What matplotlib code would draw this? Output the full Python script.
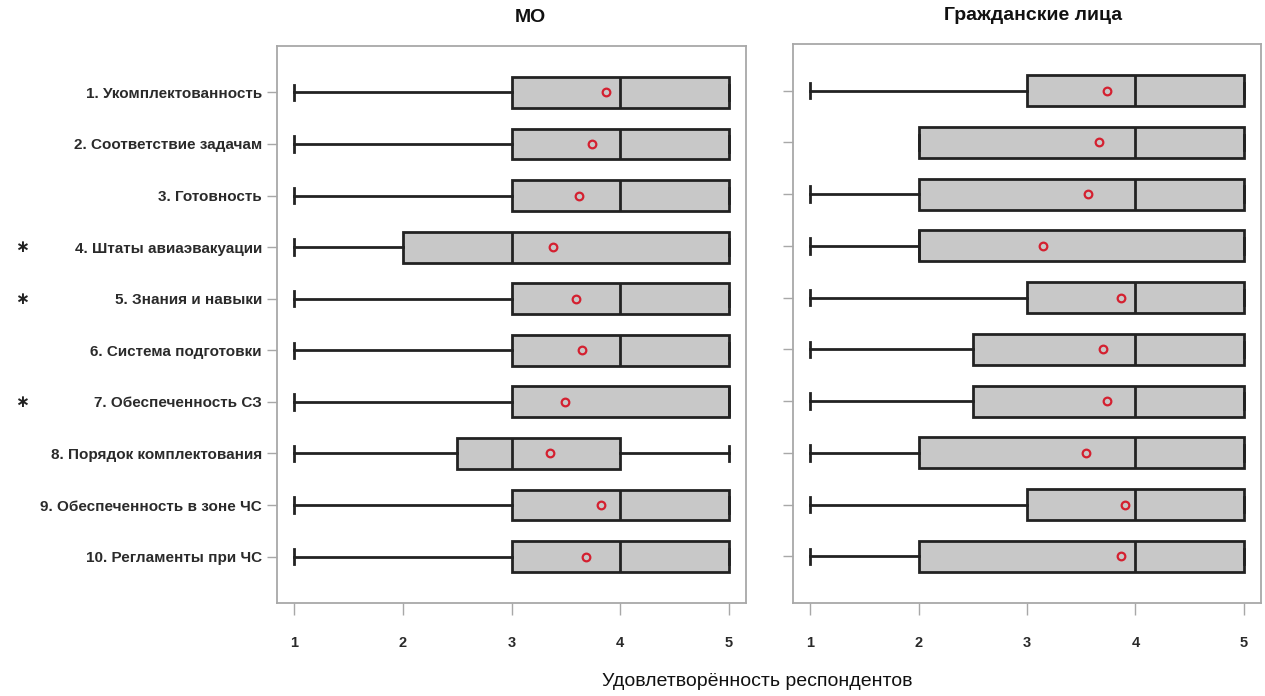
import matplotlib.pyplot as plt
import matplotlib.transforms as mtransforms

plt.rcParams['font.family'] = ['Liberation Sans', 'DejaVu Sans']

# --- данные ---
labels = ["1. Укомплектованность", "2. Соответствие задачам", "3. Готовность",
          "4. Штаты авиаэвакуации", "5. Знания и навыки", "6. Система подготовки",
          "7. Обеспеченность СЗ", "8. Порядок комплектования",
          "9. Обеспеченность в зоне ЧС", "10. Регламенты при ЧС"]
significant = [4, 5, 7]

# МО
mo_lo = [1, 1, 1, 1, 1, 1, 1, 1, 1, 1]
mo_q1 = [3, 3, 3, 2, 3, 3, 3, 2.5, 3, 3]
mo_med = [4, 4, 4, 3, 4, 4, 5, 3, 4, 4]
mo_q3 = [5, 5, 5, 5, 5, 5, 5, 4, 5, 5]
mo_hi = [5, 5, 5, 5, 5, 5, 5, 5, 5, 5]
mo_mean = [3.87, 3.74, 3.62, 3.38, 3.59, 3.65, 3.49, 3.35, 3.82, 3.69]

# Гражданские лица
civ_lo = [1, 2, 1, 1, 1, 1, 1, 1, 1, 1]
civ_q1 = [3, 2, 2, 2, 3, 2.5, 2.5, 2, 3, 2]
civ_med = [4, 4, 4, 2, 4, 4, 4, 4, 4, 4]
civ_q3 = [5, 5, 5, 5, 5, 5, 5, 5, 5, 5]
civ_hi = [5, 5, 5, 5, 5, 5, 5, 5, 5, 5]
civ_mean = [3.74, 3.66, 3.56, 3.15, 3.87, 3.70, 3.74, 3.54, 3.90, 3.87]

xticks = [1, 2, 3, 4, 5]

dark = '#222222'
txt = '#2a2a2a'
frame = '#a8a8a8'


def make_stats(lo, q1, med, q3, hi, mean):
    return [dict(whislo=a, q1=b, med=c, q3=d, whishi=e, mean=f, fliers=[])
            for a, b, c, d, e, f in zip(lo, q1, med, q3, hi, mean)]


def draw_panel(ax, stats, show_labels):
    ax.bxp(stats, positions=range(1, len(stats) + 1), orientation='horizontal',
           widths=0.6, capwidths=0.3, patch_artist=True, showmeans=True,
           showfliers=False,
           boxprops=dict(facecolor='#c8c8c8', edgecolor=dark, linewidth=2),
           whiskerprops=dict(color=dark, linewidth=2),
           capprops=dict(color=dark, linewidth=2),
           medianprops=dict(color=dark, linewidth=2),
           meanprops=dict(marker='o', markerfacecolor='none',
                          markeredgecolor='#d42030', markersize=5.5,
                          markeredgewidth=1.6))
    ax.set_xlim(0.84, 5.16)
    ax.set_ylim(10.9, 0.1)
    ax.set_xticks(xticks)
    ax.set_xticklabels([str(t) for t in xticks], fontsize=10.5,
                       fontweight='bold', color=txt)
    ax.set_yticks(range(1, len(stats) + 1))
    if show_labels:
        ax.set_yticklabels(labels, fontsize=11, fontweight='bold', color=txt)
    else:
        ax.set_yticklabels([])
    ax.tick_params(axis='x', length=8.5, width=1, color=frame, pad=15)
    ax.tick_params(axis='y', length=7, width=1, color=frame, pad=4)
    for s in ax.spines.values():
        s.set_color(frame)
        s.set_linewidth(1.3)


fig = plt.figure(figsize=(12.65, 6.96), dpi=100)
ax1 = fig.add_axes([0.219, 0.1336, 0.3708, 0.8003])
ax2 = fig.add_axes([0.6269, 0.1336, 0.370, 0.8032])

draw_panel(ax1, make_stats(mo_lo, mo_q1, mo_med, mo_q3, mo_hi, mo_mean), True)
draw_panel(ax2, make_stats(civ_lo, civ_q1, civ_med, civ_q3, civ_hi, civ_mean), False)

fig.text(530 / 1265, 1 - 17 / 696, "МО", ha='center', va='center',
         fontsize=14, fontweight='bold', color='#111111')
fig.text(1033 / 1265, 1 - 15 / 696, "Гражданские лица", ha='center', va='center',
         fontsize=14, fontweight='bold', color='#111111')

trans = mtransforms.blended_transform_factory(fig.transFigure, ax1.transData)
for r in significant:
    ax1.text(22 / 1265, r, "\u2217", transform=trans, ha='center', va='center',
             fontsize=12, fontweight='bold', color=dark, family='DejaVu Sans')

fig.text(757 / 1265, 1 - 681 / 696, "Удовлетворённость респондентов",
         ha='center', va='center', fontsize=14, color='#111111')

fig.savefig('out.png', dpi=100)
